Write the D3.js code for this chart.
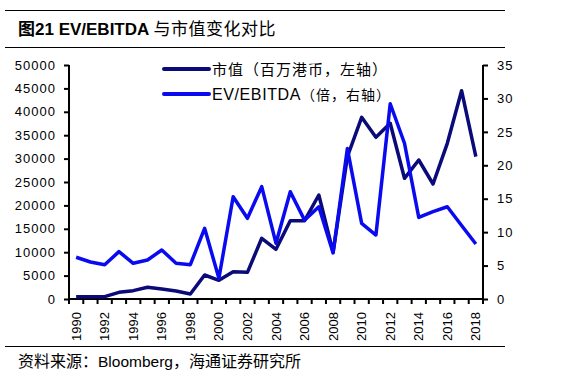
<!DOCTYPE html>
<html><head><meta charset="utf-8">
<script src="https://cdn.jsdelivr.net/npm/d3@7"></script>
<style>body{margin:0;background:#fff}svg{display:block}</style>
</head><body><svg id="c" width="567" height="379"></svg>
<script>
const years = [1990,1991,1992,1993,1994,1995,1996,1997,1998,1999,2000,2001,2002,2003,2004,2005,2006,2007,2008,2009,2010,2011,2012,2013,2014,2015,2016,2017,2018];
const marketCap = [500,500,500,1430,1780,2500,2140,1710,1070,5130,4000,5840,5700,12970,10620,16730,16730,22220,10000,30400,38820,34550,37540,25790,29700,24570,33270,44510,30400];
const evEbitda = [6.24,5.53,5.13,7.08,5.34,5.83,7.33,5.34,5.13,10.57,3.1,15.3,12.07,16.8,8.33,16.05,11.8,13.8,6.9,22.5,11.3,9.57,29.2,23.3,12.2,13.06,13.8,11.0,8.23];
const leftTicks = [0,5000,10000,15000,20000,25000,30000,35000,40000,45000,50000];
const rightTicks = [0,5,10,15,20,25,30,35];
const legendLatin = ["","EV/EBITDA"];
const legendCjk = ["市值（百万港币，左轴）","（倍，右轴）"];
const titleBold = "21 EV/EBITDA ";
const sourceParts = ["资料来源：","Bloomberg","，海通证券研究所"];

const svg = d3.select("#c");
const L=69, R=483, T=65, B=299;
const x = d3.scaleBand().domain(years).range([L,R]).padding(0);
const yL = d3.scaleLinear().domain([0,50000]).range([B,T]);
const yR = d3.scaleLinear().domain([0,35]).range([B,T]);
const font = "Arial, 'Liberation Sans', sans-serif";
const cjk = "'Noto Sans CJK SC', sans-serif";

// rules
[10.5,47.5,346.5].forEach(y=>svg.append("line").attr("x1",5).attr("x2",505).attr("y1",y).attr("y2",y).attr("stroke","#000").attr("stroke-width",1));

// title
const tt = svg.append("text").attr("x",18).attr("y",35).attr("font-size",17).attr("fill","#000");
tt.append("tspan").attr("font-family",cjk).attr("font-weight","bold").text("图");
tt.append("tspan").attr("font-family",font).attr("font-weight","bold").text(titleBold);
tt.append("tspan").attr("font-family",cjk).attr("letter-spacing",0.5).text("与市值变化对比");

// axes
const gL = svg.append("g").attr("transform",`translate(${L},0)`)
  .call(d3.axisLeft(yL).tickValues(leftTicks).tickSize(5).tickPadding(8).tickFormat(d3.format("d")));
const gR = svg.append("g").attr("transform",`translate(${R},0)`)
  .call(d3.axisRight(yR).tickValues(rightTicks).tickSize(5).tickPadding(9));
const gX = svg.append("g").attr("transform",`translate(0,${B})`)
  .call(d3.axisBottom(x).tickSize(0).tickFormat(d => (d%2===0)? d : ""));
const bounds = years.map(d=>x(d)).concat([R]);
gX.selectAll(".bt").data(bounds).enter().append("line").attr("class","bt")
  .attr("x1",d=>d).attr("x2",d=>d).attr("y1",0).attr("y2",5).attr("stroke","#000").attr("stroke-width",2);
[gL,gR,gX].forEach(g=>{
  g.selectAll("path.domain").attr("stroke","#000").attr("stroke-width",2);
  g.selectAll(".tick line").attr("stroke","#000").attr("stroke-width",2);
  g.selectAll("text").attr("font-family",font).attr("font-size",13).attr("fill","#000");
});
gL.selectAll("text").attr("letter-spacing",1);
gR.selectAll("text").attr("letter-spacing",1);
gX.selectAll(".tick text").attr("transform","rotate(-90)").attr("text-anchor","end")
  .attr("x",-13).attr("y",0).attr("dy","0.35em").attr("font-size",13);
gL.select("path.domain").attr("d",`M0,${T}V${B}`);
gR.select("path.domain").attr("d",`M0,${T}V${B}`);
gX.select("path.domain").attr("d",`M${L},0H${R}`);

// lines
const cx = d => x(d)+x.bandwidth()/2;
const colors = ["#0a0a78","#0a0af0"];
svg.append("path").datum(years.map((d,i)=>[cx(d),yL(marketCap[i])]))
  .attr("d",d3.line()).attr("fill","none").attr("stroke",colors[0]).attr("stroke-width",3.5).attr("stroke-linejoin","round");
svg.append("path").datum(years.map((d,i)=>[cx(d),yR(evEbitda[i])]))
  .attr("d",d3.line()).attr("fill","none").attr("stroke",colors[1]).attr("stroke-width",3.5).attr("stroke-linejoin","round");

// legend
legendCjk.forEach((n,i)=>{
  const y = 69 + i*25;
  svg.append("line").attr("x1",164).attr("x2",209).attr("y1",y).attr("y2",y)
    .attr("stroke",colors[i]).attr("stroke-width",4).attr("stroke-linecap","round");
  const t = svg.append("text").attr("x",212).attr("y",y).attr("dy","0.35em").attr("fill","#000");
  if (legendLatin[i]) t.append("tspan").attr("font-family",font).attr("font-size",16).attr("letter-spacing",0.6).text(legendLatin[i]);
  t.append("tspan").attr("font-family",cjk).attr("font-size",i===0?15:14).attr("letter-spacing",i===0?1:1).text(n);
});

// source
const st = svg.append("text").attr("x",18).attr("y",367).attr("fill","#000");
st.append("tspan").attr("font-family",cjk).attr("font-size",16).text(sourceParts[0]);
st.append("tspan").attr("font-family",font).attr("font-size",15.5).text(sourceParts[1]);
st.append("tspan").attr("font-family",cjk).attr("font-size",16).text(sourceParts[2]);
</script></body></html>
